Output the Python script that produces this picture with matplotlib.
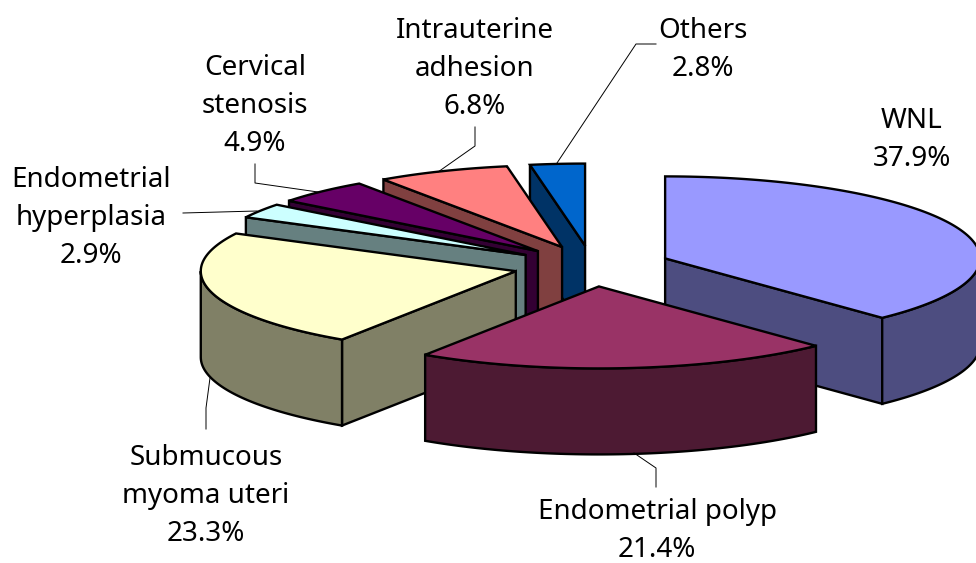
import numpy as np
import matplotlib
matplotlib.use('Agg')
import matplotlib.pyplot as plt

# chart values, clockwise from 12 o'clock
names = ['WNL', 'Endometrial polyp', 'Submucous\nmyoma uteri', 'Endometrial\nhyperplasia',
         'Cervical\nstenosis', 'Intrauterine\nadhesion', 'Others']
percents = [37.9, 21.4, 23.3, 2.9, 4.9, 6.8, 2.8]
top_colors = ['#9999FF', '#993366', '#FFFFCC', '#CCFFFF', '#660066', '#FF8080', '#0066CC']
side_colors = ['#4D4D80', '#4D1A33', '#808066', '#668080', '#330033', '#804040', '#003366']

# label centres and leader lines in pixels
label_x = [912, 657, 206, 91, 255, 475, 703]
label_y = [140, 531, 496, 218, 106, 69, 50]
leaders = [None,
           [(634, 453), (656, 468), (656, 487)],
           [(210, 378), (206, 408), (206, 429)],
           [(257, 211), (183, 213)],
           [(318, 192), (255, 183), (255, 164)],
           [(438, 172), (475, 146), (475, 127)],
           [(557, 163), (636, 44), (656, 44)]]

cx, cy = 592, 266
rx, ry = 315, 82
depth = 86
explode = 0.25

plt.rcParams['font.family'] = ['Noto Sans', 'DejaVu Sans']

fig = plt.figure(figsize=(9.76, 5.63), dpi=100)
ax = fig.add_axes([0, 0, 1, 1])
ax.set_xlim(0, 976)
ax.set_ylim(563, 0)
ax.axis('off')


def ring(ox, oy, deg):
    rad = np.radians(deg)
    return ox + rx * np.sin(rad), oy - ry * np.cos(rad)


def face(xs, ys, color, z):
    ax.fill(xs, ys, facecolor=color, edgecolor='black', linewidth=1.7, joinstyle='miter', zorder=z)


edges = np.concatenate([[0], np.cumsum(percents)]) * 3.6
mids = (edges[:-1] + edges[1:]) / 2
# back slices first so the front ones cover them
order = np.argsort(-np.cos(np.radians(mids)))

z = 2
for i in order:
    a, b = edges[i], edges[i + 1]
    ox, oy = ring(cx, cy, mids[i])
    ox = cx + (ox - cx) * explode
    oy = cy + (oy - cy) * explode

    # flat side walls
    for ang, show in [(a, a >= 180), (b, b <= 180)]:
        if show:
            px, py = ring(ox, oy, ang)
            face([ox, px, px, ox], [oy, py, py + depth, oy + depth], side_colors[i], z)
            z += 1

    # curved outer wall, front half only
    lo, hi = max(a, 90), min(b, 270)
    if lo < hi:
        t = np.linspace(lo, hi, 80)
        px, py = ring(ox, oy, t)
        face(np.r_[px, px[::-1]], np.r_[py, py[::-1] + depth], side_colors[i], z)
        z += 1

    # top of the slice
    t = np.linspace(a, b, 120)
    px, py = ring(ox, oy, t)
    face(np.r_[ox, px], np.r_[oy, py], top_colors[i], z)
    z += 1

for i in range(len(names)):
    ax.text(label_x[i], label_y[i], names[i] + '\n' + str(percents[i]) + '%', ha='center', va='center',
            fontsize=20, linespacing=1.46, color='black', zorder=z)
    if leaders[i]:
        xs, ys = zip(*leaders[i])
        ax.plot(xs, ys, color='black', linewidth=0.7, zorder=z)

fig.savefig('out.png', dpi=100)
